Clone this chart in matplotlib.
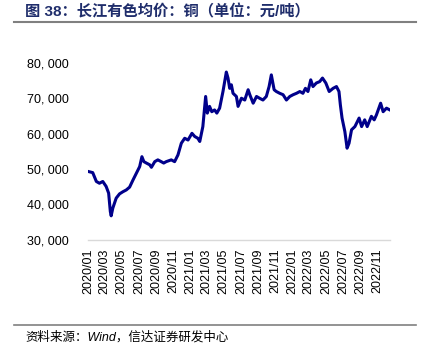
import pandas as pd
import matplotlib
matplotlib.use('Agg')
import matplotlib.pyplot as plt
from matplotlib.lines import Line2D
from matplotlib.ticker import FuncFormatter

plt.rcParams['font.family'] = ['Liberation Sans', 'Noto Sans CJK SC', 'DejaVu Sans']

# --- data (yuan / ton) ---
dates = [
    '2020-01-03', '2020-01-18', '2020-01-31', '2020-02-11', '2020-02-23', '2020-03-06',
    '2020-03-15', '2020-03-21', '2020-03-24', '2020-03-30', '2020-04-11', '2020-04-23',
    '2020-05-05', '2020-05-17', '2020-05-29', '2020-06-10', '2020-06-22', '2020-07-04',
    '2020-07-12', '2020-07-19', '2020-07-28', '2020-08-09', '2020-08-15', '2020-08-27',
    '2020-09-07', '2020-09-19', '2020-09-28', '2020-10-07', '2020-10-25', '2020-11-06',
    '2020-11-18', '2020-11-30', '2020-12-12', '2020-12-24', '2021-01-07', '2021-01-17',
    '2021-01-28', '2021-02-04', '2021-02-15', '2021-02-25', '2021-03-03', '2021-03-11',
    '2021-03-19', '2021-03-29', '2021-04-06', '2021-04-16', '2021-04-28', '2021-05-10',
    '2021-05-16', '2021-05-22', '2021-05-28', '2021-06-03', '2021-06-15', '2021-06-21',
    '2021-07-03', '2021-07-15', '2021-07-27', '2021-08-02', '2021-08-14', '2021-08-26',
    '2021-09-06', '2021-09-18', '2021-09-30', '2021-10-10', '2021-10-18', '2021-10-28',
    '2021-11-05', '2021-11-17', '2021-11-29', '2021-12-11', '2021-12-23', '2022-01-04',
    '2022-01-16', '2022-01-28', '2022-02-08', '2022-02-17', '2022-02-26', '2022-03-08',
    '2022-03-16', '2022-03-28', '2022-04-09', '2022-04-19', '2022-05-01', '2022-05-13',
    '2022-05-27', '2022-06-08', '2022-06-17', '2022-06-22', '2022-06-28', '2022-07-08',
    '2022-07-16', '2022-07-23', '2022-08-01', '2022-08-13', '2022-08-28', '2022-09-06',
    '2022-09-17', '2022-09-26', '2022-10-11', '2022-10-21', '2022-10-29', '2022-11-13',
    '2022-11-22', '2022-12-04', '2022-12-16',
]
copper_price = [
    49300, 49000, 46500, 46000, 46500, 45100,
    43200, 38000, 36800, 39000, 41800, 43000,
    43600, 44100, 44900, 46900, 48800, 50700,
    53500, 52100, 51700, 51200, 50500, 52100,
    52600, 52100, 51700, 52100, 52600, 52100,
    54000, 57300, 58700, 58200, 60100, 59200,
    58700, 57800, 62000, 70500, 65800, 67700,
    66200, 66700, 65800, 67200, 71900, 77400,
    75700, 72800, 73800, 71400, 70500, 67700,
    70000, 69500, 72400, 71000, 68600, 70500,
    70000, 69500, 70500, 73300, 76600, 72400,
    71900, 71400, 71000, 69500, 70500, 71000,
    71400, 71900, 71400, 72800, 71900, 75200,
    73300, 74300, 74700, 75700, 74300, 71900,
    72800, 73300, 71900, 68100, 64400, 60600,
    55900, 57300, 61100, 62000, 64400, 62000,
    63900, 62000, 64900, 63900, 65300, 68600,
    66200, 67200, 66700,
]
tick_labels = ['2020/01', '2020/03', '2020/05', '2020/07', '2020/09', '2020/11',
               '2021/01', '2021/03', '2021/05', '2021/07', '2021/09', '2021/11',
               '2022/01', '2022/03', '2022/05', '2022/07', '2022/09', '2022/11']

title = '图 38：长江有色均价：铜（单位：元/吨）'
source = '资料来源：Wind，信达证券研发中心'

df = pd.DataFrame({'date': pd.to_datetime(dates), 'price': copper_price})
tick_dates = pd.to_datetime([t.replace('/', '-') + '-01' for t in tick_labels])

fig = plt.figure(figsize=(4.27, 3.57), dpi=100)
ax = fig.add_axes([0.206, 0.328, 0.707, 0.496])

ax.plot(df['date'], df['price'], color='#00008B', linewidth=2.2)

ax.set_ylim(30000, 80000)
ax.set_yticks(range(30000, 80001, 10000))
ax.yaxis.set_major_formatter(FuncFormatter(lambda v, p: f'{int(v):,}'.replace(',', ', ')))
ax.set_xlim(pd.Timestamp('2020-01-01'), df['date'].iloc[-1])
ax.set_xticks(tick_dates)
ax.set_xticklabels(tick_labels, rotation=90)
ax.tick_params(axis='both', length=0, labelsize=9, colors='black')
ax.tick_params(axis='x', pad=6)
ax.tick_params(axis='y', pad=14)

for s in ['top', 'right', 'left']:
    ax.spines[s].set_visible(False)
ax.spines['bottom'].set_color('#d9d9d9')
ax.spines['bottom'].set_linewidth(1.0)

# title, separators and source
fig.text(0.059, 0.966, title, fontsize=11, fontweight='bold', color='#1F2D6B',
         va='center', ha='left')
fig.add_artist(Line2D([0.033, 0.975], [0.938, 0.938], color='#808080', linewidth=1.5))
fig.add_artist(Line2D([0.033, 0.975], [0.090, 0.090], color='#808080', linewidth=1.2))
fig.text(0.059, 0.056, source, fontsize=9, color='black', va='center', ha='left',
         style='italic')

fig.savefig('out.png', dpi=100)
